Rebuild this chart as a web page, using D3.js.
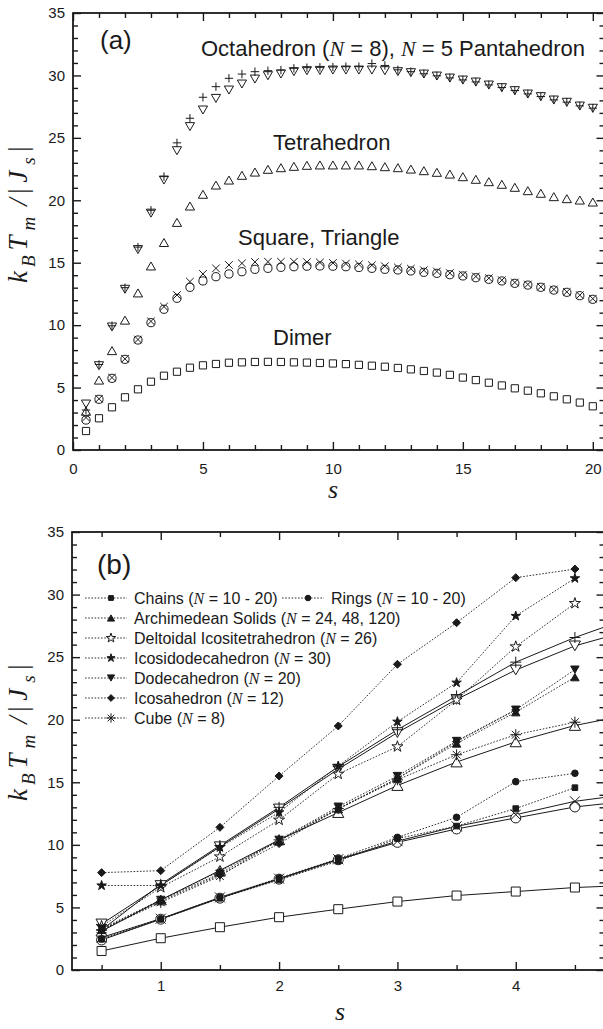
<!DOCTYPE html>
<html>
<head>
<meta charset="utf-8">
<script src="https://cdn.jsdelivr.net/npm/d3@7"></script>
<style>
body { margin: 0; background: #fff; }
svg text { font-family: "Liberation Sans", Arial, sans-serif; fill: #1a1a1a; }
.serif { font-family: "Liberation Serif", "Times New Roman", serif; font-style: italic; }
</style>
</head>
<body>
<svg id="chart" width="603" height="1029"></svg>
<script>
// ---------- panel (a) : k_B T_m / |J_s| against s for the small clusters
var sA = [0.5,1,1.5,2,2.5,3,3.5,4,4.5,5,5.5,6,6.5,7,7.5,8,8.5,9,9.5,10,
          10.5,11,11.5,12,12.5,13,13.5,14,14.5,15,15.5,16,16.5,17,17.5,18,18.5,19,19.5,20];
var dimer = [1.52,2.54,3.42,4.22,4.86,5.47,5.95,6.27,6.59,6.78,6.89,6.99,7.02,7.05,7.06,7.05,7.02,7.0,6.97,6.93,
             6.88,6.82,6.75,6.67,6.57,6.46,6.33,6.2,6.02,5.8,5.6,5.39,5.17,4.94,4.75,4.54,4.3,4.06,3.8,3.5];
var square = [2.4,4.06,5.74,7.26,8.81,10.2,11.27,12.15,13.03,13.54,13.88,14.1,14.28,14.47,14.55,14.63,14.68,14.72,14.74,14.72,
              14.68,14.62,14.55,14.47,14.42,14.34,14.23,14.15,14.04,13.94,13.8,13.67,13.54,13.35,13.21,13.03,12.81,12.63,12.36,12.07];
var triangle = [2.6,4.1,5.8,7.3,8.85,10.3,11.48,12.41,13.48,14.1,14.55,14.82,14.95,15.06,15.08,15.08,15.08,15.05,15.02,14.98,
                14.93,14.87,14.8,14.72,14.62,14.52,14.4,14.3,14.17,14.04,13.9,13.76,13.6,13.42,13.26,13.07,12.86,12.66,12.4,12.12];
var tetra = [3.1,5.6,7.96,10.4,12.58,14.74,16.62,18.23,19.54,20.48,21.22,21.62,22.0,22.26,22.48,22.61,22.72,22.8,22.83,22.83,
             22.83,22.83,22.77,22.69,22.61,22.5,22.37,22.24,22.1,21.89,21.68,21.49,21.28,21.04,20.77,20.56,20.29,20.13,20.02,19.86];
var octa = [3.68,6.75,9.85,12.87,16.05,18.97,21.62,23.97,25.9,27.23,28.16,28.83,29.31,29.71,29.98,30.11,30.3,30.38,30.4,30.43,
            30.43,30.43,30.43,30.38,30.3,30.22,30.11,29.95,29.79,29.63,29.47,29.23,29.02,28.78,28.51,28.3,28.03,27.85,27.55,27.37];
var penta = [3.2,6.85,9.95,13.0,16.25,19.2,21.9,24.6,26.57,28.25,29.1,29.77,30.11,30.3,30.38,30.43,30.57,30.62,30.65,30.68,
             30.7,30.7,30.95,30.8,30.45,30.3,30.13,29.97,29.8,29.64,29.48,29.24,29.03,28.79,28.52,28.31,28.04,27.86,27.56,27.38];

// ---------- panel (b) : larger clusters, s = 0.5 ... 4.5
var sB = [0.5,1,1.5,2,2.5,3,3.5,4,4.5];
var chains  = [2.45,4.05,5.73,7.2,8.7,10.5,11.5,12.9,14.57];
var rings   = [2.5,4.1,5.8,7.35,8.9,10.6,12.2,15.05,15.72];
var archim  = [3.2,5.6,7.9,10.3,12.85,15.3,18.1,20.6,23.4];
var deltoid = [3.5,6.6,9.05,11.99,15.66,17.85,21.58,25.84,29.3];
var icosido = [6.75,6.75,9.8,12.6,16.3,19.84,22.96,28.29,31.3];
var dodeca  = [3.3,5.6,7.7,10.4,13.05,15.5,18.3,20.8,24.0];
var icosa   = [7.78,7.94,11.4,15.5,19.5,24.43,27.75,31.35,32.04];
var icosa2  = [3.2,5.5,7.6,10.1,12.9,15.3,18.25,20.78];
var cube    = [3.2,5.4,7.5,10.4,12.9,15.2,17.2,18.8,19.8];

// ticks
var xMajorA = [0,5,10,15,20];
var xMinorA = [1,2,3,4,6,7,8,9,11,12,13,14,16,17,18,19,20.4];
var xMajorB = [1,2,3,4];
var xMinorB = [0.5,1.5,2.5,3.5,4.5];
var yMajor = [0,5,10,15,20,25,30,35];
var yMinor = [1,2,3,4,6,7,8,9,11,12,13,14,16,17,18,19,21,22,23,24,26,27,28,29,31,32,33,34];

var svg = d3.select("#chart");

// marker outlines
function markerPath(type, r) {
  var h;
  switch (type) {
    case "square": return "M" + (-r) + "," + (-r) + "h" + 2*r + "v" + 2*r + "h" + (-2*r) + "Z";
    case "circle": return "M" + r + ",0A" + r + "," + r + " 0 1,1 " + (-r) + ",0A" + r + "," + r + " 0 1,1 " + r + ",0Z";
    case "up": h = r * 0.87; return "M0," + (-h) + "L" + r + "," + h + "L" + (-r) + "," + h + "Z";
    case "down": h = r * 0.87; return "M0," + h + "L" + r + "," + (-h) + "L" + (-r) + "," + (-h) + "Z";
    case "plus": return "M" + (-r) + ",0H" + r + "M0," + (-r) + "V" + r;
    case "x": return "M" + (-r) + "," + (-r) + "L" + r + "," + r + "M" + (-r) + "," + r + "L" + r + "," + (-r);
    case "diamond": return "M0," + (-r) + "L" + r + ",0L0," + r + "L" + (-r) + ",0Z";
    case "star": return d3.symbol().type(d3.symbolStar).size(r * r / 0.8908)();
    case "asterisk":
      var d = r * 0.707;
      return "M0," + (-r) + "V" + r + "M" + (-r) + ",0H" + r +
             "M" + (-d) + "," + (-d) + "L" + d + "," + d + "M" + (-d) + "," + d + "L" + d + "," + (-d);
  }
}

function drawAxes(g, x, y, xMajor, xMinor, pad) {
  var x0 = x.range()[0], x1 = x.range()[1], y0 = y.range()[0], y1 = y.range()[1];
  var fmt = d3.format("d");
  g.append("g").attr("transform", "translate(0," + y0 + ")")
    .call(d3.axisBottom(x).tickValues(xMajor).tickSizeInner(-8).tickSizeOuter(0).tickPadding(pad).tickFormat(fmt));
  g.append("g").attr("transform", "translate(0," + y0 + ")")
    .call(d3.axisBottom(x).tickValues(xMinor).tickSizeInner(-5).tickSizeOuter(0).tickFormat(""));
  g.append("g").attr("transform", "translate(0," + y1 + ")")
    .call(d3.axisTop(x).tickValues(xMajor).tickSizeInner(-8).tickSizeOuter(0).tickFormat(""));
  g.append("g").attr("transform", "translate(0," + y1 + ")")
    .call(d3.axisTop(x).tickValues(xMinor).tickSizeInner(-5).tickSizeOuter(0).tickFormat(""));
  g.append("g").attr("transform", "translate(" + x0 + ",0)")
    .call(d3.axisLeft(y).tickValues(yMajor).tickSizeInner(-8).tickSizeOuter(0).tickPadding(8).tickFormat(fmt));
  g.append("g").attr("transform", "translate(" + x0 + ",0)")
    .call(d3.axisLeft(y).tickValues(yMinor).tickSizeInner(-5).tickSizeOuter(0).tickFormat(""));
  g.append("g").attr("transform", "translate(" + x1 + ",0)")
    .call(d3.axisRight(y).tickValues(yMajor).tickSizeInner(-8).tickSizeOuter(0).tickFormat(""));
  g.append("g").attr("transform", "translate(" + x1 + ",0)")
    .call(d3.axisRight(y).tickValues(yMinor).tickSizeInner(-5).tickSizeOuter(0).tickFormat(""));
  g.selectAll(".domain").remove();
  g.selectAll(".tick line").attr("stroke", "#1a1a1a").attr("stroke-width", 1.4);
  g.selectAll(".tick text").attr("font-size", 15).attr("fill", "#1a1a1a")
    .style("font-family", "'Liberation Sans', Arial, sans-serif");
  g.append("rect").attr("x", x0).attr("y", y1).attr("width", x1 - x0).attr("height", y0 - y1)
    .attr("fill", "none").attr("stroke", "#1a1a1a").attr("stroke-width", 1.8);
}

// k_B T_m / |J_s|, read bottom to top
function yTitle(g, cx, cy) {
  var t = g.append("text").attr("class", "serif").attr("font-size", 27)
    .attr("transform", "translate(" + cx + "," + cy + ") rotate(-90)");
  t.append("tspan").text("k");
  t.append("tspan").attr("dy", 8).attr("dx", 4).attr("font-size", 19).text("B");
  t.append("tspan").attr("dy", -8).attr("dx", 5).text("T");
  t.append("tspan").attr("dy", 8).attr("dx", 5).attr("font-size", 19).text("m");
  t.append("tspan").attr("dy", -8).attr("dx", 11).text("/");
  t.append("tspan").attr("dx", 3).text("|");
  t.append("tspan").attr("dx", 5).text("J");
  t.append("tspan").attr("dy", 8).attr("dx", 6).attr("font-size", 19).text("s");
  t.append("tspan").attr("dy", -8).attr("dx", 4).text("|");
}

// ================= panel (a)
var xa = d3.scaleLinear().domain([0, 20.45]).range([73, 604.5]);
var ya = d3.scaleLinear().domain([0, 35]).range([450, 13]);
var ga = svg.append("g");
drawAxes(ga, xa, ya, xMajorA, xMinorA, 13);

var seriesA = [
  { v: dimer, type: "square", r: 3.6 },
  { v: square, type: "circle", r: 4.1 },
  { v: triangle, type: "x", r: 3.8 },
  { v: tetra, type: "up", r: 4.6 },
  { v: octa, type: "down", r: 4.6 },
  { v: penta, type: "plus", r: 4.2 }
];
seriesA.forEach(function (s) {
  ga.append("g").selectAll("path").data(s.v).join("path")
    .attr("transform", function (d, i) { return "translate(" + xa(sA[i]) + "," + ya(d) + ")"; })
    .attr("d", markerPath(s.type, s.r))
    .attr("fill", "none").attr("stroke", "#1a1a1a").attr("stroke-width", 1);
});

ga.append("text").attr("x", 100).attr("y", 49).attr("font-size", 26).text("(a)");
var t1 = ga.append("text").attr("x", 201).attr("y", 56).attr("font-size", 22);
t1.append("tspan").text("Octahedron (");
t1.append("tspan").attr("class", "serif").text("N");
t1.append("tspan").text(" = 8), ");
t1.append("tspan").attr("class", "serif").text("N");
t1.append("tspan").text(" = 5 Pantahedron");
ga.append("text").attr("x", 273).attr("y", 150).attr("font-size", 22).text("Tetrahedron");
ga.append("text").attr("x", 238).attr("y", 245).attr("font-size", 22).text("Square, Triangle");
ga.append("text").attr("x", 273).attr("y", 345).attr("font-size", 22).text("Dimer");
yTitle(ga, 27, 283);
ga.append("text").attr("class", "serif").attr("x", 333).attr("y", 498)
  .attr("text-anchor", "middle").attr("font-size", 26).text("s");

// ================= panel (b)
var xb = d3.scaleLinear().domain([0.25, 4.75]).range([72, 604.5]);
var yb = d3.scaleLinear().domain([0, 35]).range([970, 532]);
var gb = svg.append("g");
drawAxes(gb, xb, yb, xMajorB, xMinorB, 10);

gb.append("clipPath").attr("id", "clipB").append("rect")
  .attr("x", 72).attr("y", 532).attr("width", 532.5).attr("height", 438);
var plotB = gb.append("g").attr("clip-path", "url(#clipB)");

// solid: the small clusters of panel (a), first ten s values (0.5 ... 5)
var sSolid = sA.slice(0, 10);
var solidB = [
  { v: dimer.slice(0, 10), type: "square", r: 4.5 },
  { v: square.slice(0, 10), type: "circle", r: 5 },
  { v: triangle.slice(0, 10), type: "x", r: 5 },
  { v: tetra.slice(0, 10), type: "up", r: 5.6 },
  { v: octa.slice(0, 10), type: "down", r: 5.6 },
  { v: penta.slice(0, 10), type: "plus", r: 5.5 }
];
var dottedB = [
  { v: chains, type: "square", r: 2.8, fill: true },
  { v: rings, type: "circle", r: 3.3, fill: true },
  { v: archim, type: "up", r: 4.2, fill: true },
  { v: deltoid, type: "star", r: 5.8, fill: false },
  { v: icosido, type: "star", r: 5, fill: true },
  { v: dodeca, type: "down", r: 4.2, fill: true },
  { v: icosa, type: "diamond", r: 4, fill: true },
  { v: icosa2, type: "diamond", r: 4, fill: true },
  { v: cube, type: "asterisk", r: 5.5, fill: false }
];

var lineB = d3.line().x(function (d) { return xb(d[0]); }).y(function (d) { return yb(d[1]); });

dottedB.forEach(function (s) {
  plotB.append("path").datum(s.v.map(function (v, i) { return [sB[i], v]; }))
    .attr("d", lineB).attr("fill", "none").attr("stroke", "#1a1a1a")
    .attr("stroke-width", 0.9).attr("stroke-dasharray", "1.6,1.6");
});
solidB.forEach(function (s) {
  plotB.append("path").datum(s.v.map(function (v, i) { return [sSolid[i], v]; }))
    .attr("d", lineB).attr("fill", "none").attr("stroke", "#1a1a1a").attr("stroke-width", 1);
});

function drawMarks(g, s, xs, fillOpen) {
  g.append("g").selectAll("path").data(s.v).join("path")
    .attr("transform", function (d, i) { return "translate(" + xb(xs[i]) + "," + yb(d) + ")"; })
    .attr("d", markerPath(s.type, s.r))
    .attr("fill", s.fill ? "#1a1a1a" : (fillOpen ? "#fff" : "none"))
    .attr("stroke", "#1a1a1a").attr("stroke-width", 1);
}
solidB.forEach(function (s) { drawMarks(plotB, s, sSolid, true); });
dottedB.forEach(function (s) { drawMarks(plotB, s, sB, true); });

gb.append("text").attr("x", 97).attr("y", 574).attr("font-size", 28).text("(b)");

// legend
var legendItems = [
  { name: "Chains (", n: "N", rest: " = 10 - 20)", s: dottedB[0], x: 85, row: 0 },
  { name: "Rings (", n: "N", rest: " = 10 - 20)", s: dottedB[1], x: 282, row: 0 },
  { name: "Archimedean Solids (", n: "N", rest: " = 24, 48, 120)", s: dottedB[2], x: 85, row: 1 },
  { name: "Deltoidal Icositetrahedron (", n: "N", rest: " = 26)", s: dottedB[3], x: 85, row: 2 },
  { name: "Icosidodecahedron (", n: "N", rest: " = 30)", s: dottedB[4], x: 85, row: 3 },
  { name: "Dodecahedron (", n: "N", rest: " = 20)", s: dottedB[5], x: 85, row: 4 },
  { name: "Icosahedron (", n: "N", rest: " = 12)", s: dottedB[6], x: 85, row: 5 },
  { name: "Cube (", n: "N", rest: " = 8)", s: dottedB[8], x: 85, row: 6 }
];
legendItems.forEach(function (it) {
  var y = 598 + it.row * 20;
  var lg = gb.append("g");
  lg.append("line").attr("x1", it.x).attr("x2", it.x + 42).attr("y1", y).attr("y2", y)
    .attr("stroke", "#1a1a1a").attr("stroke-width", 0.9).attr("stroke-dasharray", "1.6,1.6");
  lg.append("path").attr("transform", "translate(" + (it.x + 26) + "," + y + ")")
    .attr("d", markerPath(it.s.type, it.s.r * 0.85))
    .attr("fill", it.s.fill ? "#1a1a1a" : "#fff").attr("stroke", "#1a1a1a").attr("stroke-width", 1);
  var t = lg.append("text").attr("x", it.x + 49).attr("y", y + 6).attr("font-size", 16);
  t.append("tspan").text(it.name);
  t.append("tspan").attr("class", "serif").text(it.n);
  t.append("tspan").text(it.rest);
});

yTitle(gb, 27, 801);
gb.append("text").attr("class", "serif").attr("x", 340).attr("y", 1020)
  .attr("text-anchor", "middle").attr("font-size", 26).text("s");
</script>
</body>
</html>
